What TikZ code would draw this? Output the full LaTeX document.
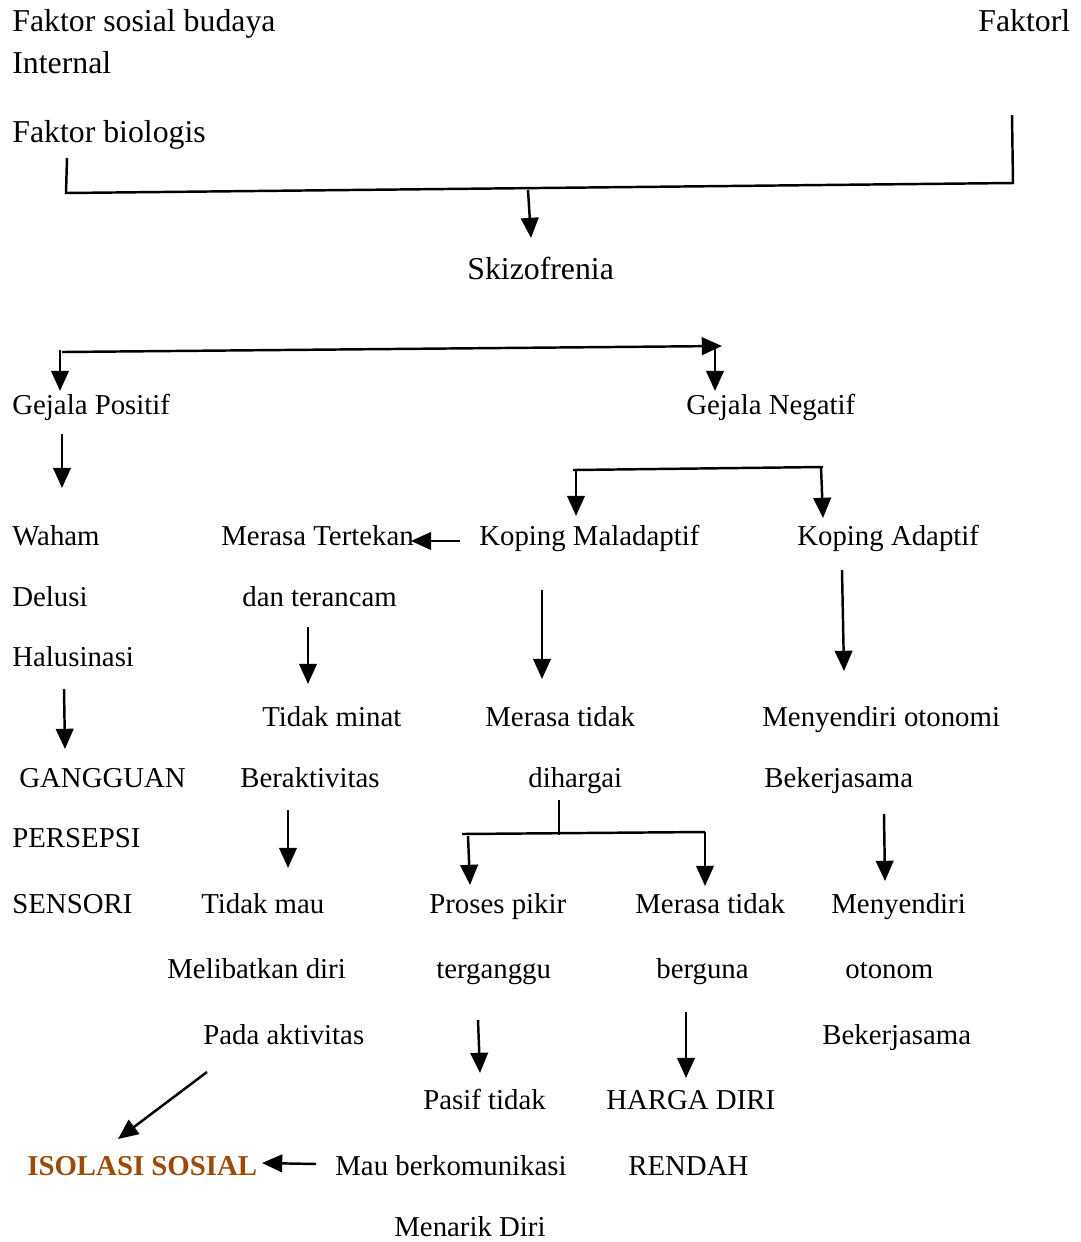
\documentclass[tikz,border=0pt]{standalone}
\usepackage{fontspec}
\setmainfont{Liberation Serif}
\usetikzlibrary{arrows.meta}
\definecolor{isolasi}{RGB}{155,74,8}

\begin{document}
\begin{tikzpicture}[
  x=0.02cm, y=-0.02cm,
  txt/.style={anchor=base west, inner sep=0pt, font=\fontsize{16.4}{19}\selectfont},
  besar/.style={txt, font=\fontsize{18.1}{21}\selectfont},
  hasil/.style={txt, font=\fontsize{16.4}{19}\selectfont\bfseries, text=isolasi},
  line/.style={line width=1.4pt},
  arrow/.style={line width=1.4pt, -{Triangle[length=11.5pt,width=10pt]}}
]
\useasboundingbox (0,0) rectangle (1080,1242);

% Faktor penyebab
\node[besar] (sosial) at (12,31) {Faktor sosial budaya};
\node[besar] (faktorl) at (978,31) {Faktorl};
\node[besar] (internal) at (12,73) {Internal};
\node[besar] (biologis) at (12,142) {Faktor biologis};
\node[besar] (skizo) at (467,279) {Skizofrenia};

% Gejala
\node[txt] (positif) at (12,414) {Gejala Positif};
\node[txt] (negatif) at (686,414) {Gejala Negatif};

% Kolom gejala positif
\node[txt] (waham) at (12,545) {Waham};
\node[txt] (delusi) at (12,606) {Delusi};
\node[txt] (halusinasi) at (12,666) {Halusinasi};
\node[txt] (gangguan) at (19,787) {GANGGUAN};
\node[txt] (persepsi) at (12,847) {PERSEPSI};
\node[txt] (sensori) at (12,913) {SENSORI};

% Kolom merasa tertekan
\node[txt] (tertekan) at (221,545) {Merasa Tertekan};
\node[txt] (terancam) at (242,606) {dan terancam};
\node[txt] (minat) at (262,726) {Tidak minat};
\node[txt] (aktivitas) at (240,787) {Beraktivitas};
\node[txt] (tidakmau) at (201,913) {Tidak mau};
\node[txt] (melibatkan) at (167,978) {Melibatkan diri};
\node[txt] (pada) at (203,1044) {Pada aktivitas};

% Kolom koping maladaptif
\node[txt] (maladaptif) at (479,545) {Koping Maladaptif};
\node[txt] (dihargai1) at (485,726) {Merasa tidak};
\node[txt] (dihargai2) at (528,787) {dihargai};
\node[txt] (proses) at (429,913) {Proses pikir};
\node[txt] (terganggu) at (436,978) {terganggu};
\node[txt] (pasif) at (423,1109) {Pasif tidak};
\node[txt] (komunikasi) at (335,1175) {Mau berkomunikasi};
\node[txt] (menarik) at (394,1236) {Menarik Diri};
\node[txt] (berguna1) at (635,913) {Merasa tidak};
\node[txt] (berguna2) at (656,978) {berguna};
\node[txt] (harga) at (606,1109) {HARGA DIRI};
\node[txt] (rendah) at (628,1175) {RENDAH};

% Kolom koping adaptif
\node[txt] (adaptif) at (797,545) {Koping Adaptif};
\node[txt] (otonomi) at (762,726) {Menyendiri otonomi};
\node[txt] (kerja1) at (764,787) {Bekerjasama};
\node[txt] (menyendiri) at (831,913) {Menyendiri};
\node[txt] (otonom) at (845,978) {otonom};
\node[txt] (kerja2) at (822,1044) {Bekerjasama};

% Hasil akhir
\node[hasil] (isolasi) at (27,1175) {ISOLASI SOSIAL};

% Titik bantu
\coordinate (bioA) at (67,158);
\coordinate (bioB) at (66,193);
\coordinate (faktA) at (1012,115);
\coordinate (faktB) at (1013,183);
\coordinate (skizoA) at (528,190);
\coordinate (skizoB) at (531,238);
\coordinate (cabangA) at (62,352);
\coordinate (cabangB) at (722,346);
\coordinate (posA) at (60,350);
\coordinate (posB) at (60,391);
\coordinate (negA) at (715,348);
\coordinate (negB) at (715,391);
\coordinate (posC) at (62,434);
\coordinate (posD) at (62,488);
\coordinate (kopA) at (573,470);
\coordinate (kopB) at (823,467);
\coordinate (malA) at (576,470);
\coordinate (malB) at (576,516);
\coordinate (adaA) at (821,467);
\coordinate (adaB) at (823,518);
\coordinate (tekA) at (460,541);
\coordinate (tekB) at (411,541);
\coordinate (adaC) at (842,570);
\coordinate (adaD) at (844,671);
\coordinate (malC) at (542,590);
\coordinate (malD) at (542,679);
\coordinate (tekC) at (308,627);
\coordinate (tekD) at (308,684);
\coordinate (halA) at (64,689);
\coordinate (halB) at (65,749);
\coordinate (aktA) at (288,810);
\coordinate (aktB) at (288,868);
\coordinate (kerA) at (884,814);
\coordinate (kerB) at (885,881);
\coordinate (harA) at (559,800);
\coordinate (harB) at (559,835);
\coordinate (harC) at (462,834);
\coordinate (harD) at (705,832);
\coordinate (proA) at (468,836);
\coordinate (proB) at (470,885);
\coordinate (gunB) at (705,886);
\coordinate (terA) at (478,1020);
\coordinate (terB) at (480,1073);
\coordinate (gunC) at (686,1012);
\coordinate (gunD) at (686,1078);
\coordinate (padaA) at (207,1072);
\coordinate (padaB) at (118,1139);
\coordinate (komA) at (316,1164);
\coordinate (komB) at (262,1163);

% Faktor ke skizofrenia
\draw[line] (bioA) -- (bioB) -- (faktB) -- (faktA);
\draw[arrow] (skizoA) -- (skizoB);

% Skizofrenia ke gejala
\draw[arrow] (cabangA) -- (cabangB);
\draw[arrow] (posA) -- (posB);
\draw[arrow] (negA) -- (negB);
\draw[arrow] (posC) -- (posD);

% Koping
\draw[line] (kopA) -- (kopB);
\draw[arrow] (malA) -- (malB);
\draw[arrow] (adaA) -- (adaB);
\draw[arrow] (tekA) -- (tekB);
\draw[arrow] (adaC) -- (adaD);
\draw[arrow] (malC) -- (malD);
\draw[arrow] (tekC) -- (tekD);
\draw[arrow] (halA) -- (halB);
\draw[arrow] (aktA) -- (aktB);
\draw[arrow] (kerA) -- (kerB);

% Merasa tidak dihargai
\draw[line] (harA) -- (harB);
\draw[line] (harC) -- (harD);
\draw[arrow] (proA) -- (proB);
\draw[arrow] (harD) -- (gunB);
\draw[arrow] (terA) -- (terB);
\draw[arrow] (gunC) -- (gunD);

% Ke isolasi sosial
\draw[arrow] (padaA) -- (padaB);
\draw[arrow] (komA) -- (komB);

\end{tikzpicture}
\end{document}
